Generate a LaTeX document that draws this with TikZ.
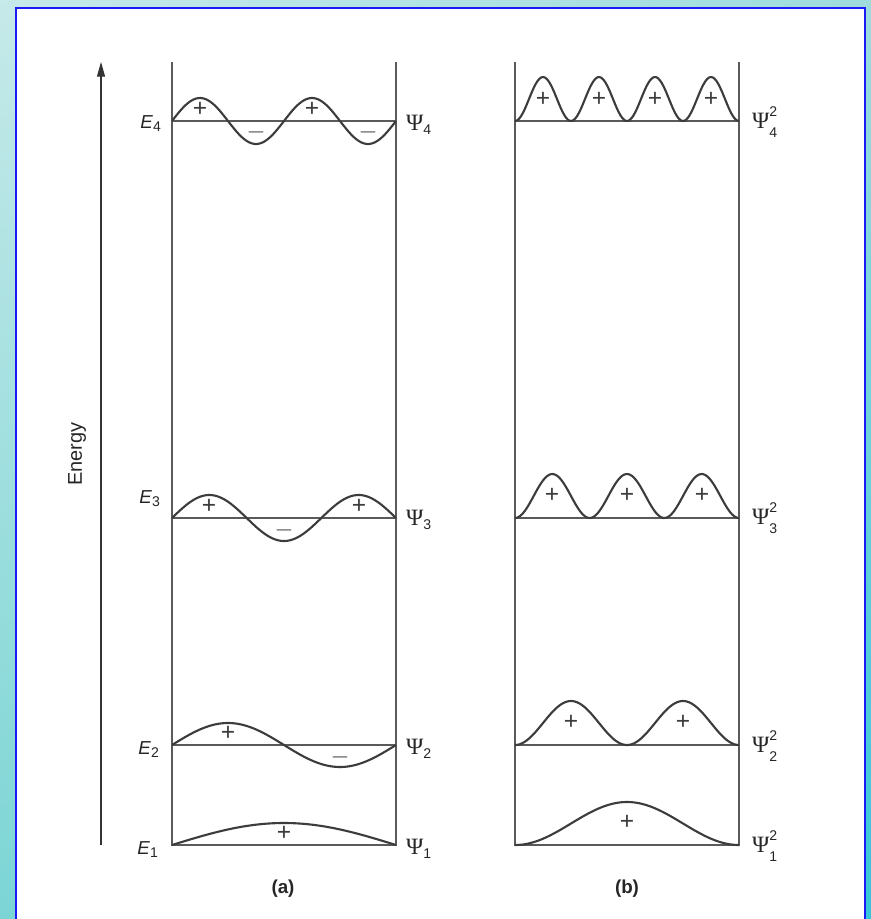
\documentclass[tikz,border=0pt]{standalone}
\usepackage{amsmath}
\usepackage{fontspec}
\setmainfont{Liberation Sans}
\newfontfamily\psifont{Liberation Serif}
\usetikzlibrary{arrows.meta}
\usetikzlibrary{shadings}

\definecolor{bgtl}{HTML}{C6E9E9}
\definecolor{bgtr}{HTML}{9EDCDE}
\definecolor{bgbl}{HTML}{7CD5D5}
\definecolor{bgbr}{HTML}{36C6D8}
\definecolor{framblue}{HTML}{1A1AF2}
\definecolor{linegray}{HTML}{5A5A5A}
\definecolor{wavegray}{HTML}{3C3C3C}

\newcommand{\levnum}[1]{\text{\fontsize{12}{13}\selectfont #1}}
\newcommand{\psisym}{\text{\psifont Ψ}}
\newcommand{\psisq}[1]{\psisym^{\raisebox{2.5pt}{\levnum{2}}}_{\raisebox{-2.5pt}{\levnum{#1}}}}

\begin{document}
\begin{tikzpicture}[
            x=0.03cm, y=-0.03cm,
            wall/.style={line width=1.1pt, draw=linegray},
            level/.style={line width=0.9pt, draw=linegray},
            wave/.style={line width=1.8pt, draw=wavegray, line join=round},
            lbl/.style={font=\fontsize{16}{18}\selectfont, text=black!85, inner sep=0pt},
            psilbl/.style={font=\fontsize{20}{22}\selectfont, text=black!85, inner sep=0pt},
            sgn/.style={font=\fontsize{21}{22}\selectfont, text=wavegray, inner sep=0pt}
        ]

        % frame
        \useasboundingbox (0,0) rectangle (871,919);
        \shade[upper left=bgtl, upper right=bgtr, lower left=bgbl, lower right=bgbr] (0,0) rectangle (871,919);
        \fill[white] (16,8) rectangle (865,919);
        \draw[framblue, line width=2.2pt] (16,919) -- (16,8) -- (865,8) -- (865,919);

        % energy axis
        \coordinate (axbot) at (101,845);
        \coordinate (axtop) at (101,62);
        \draw[-{Triangle[length=4.4mm, width=2.4mm]}, line width=1pt, black!80] (axbot) -- (axtop);
        \node[lbl, rotate=90, font=\fontsize{17}{18}\selectfont] (energy) at (77,454) {Energy};

        % wells
        \coordinate (aTL) at (172,62);
        \coordinate (aBL) at (172,845);
        \coordinate (aBR) at (396,845);
        \coordinate (aTR) at (396,62);
        \coordinate (bTL) at (515,62);
        \coordinate (bBL) at (515,845);
        \coordinate (bBR) at (739,845);
        \coordinate (bTR) at (739,62);
        \draw[wall] (aTL) -- (aBL) -- (aBR) -- (aTR);
        \draw[wall] (bTL) -- (bBL) -- (bBR) -- (bTR);

        \draw[level] (172,121) -- (396,121);
        \draw[level] (172,518) -- (396,518);
        \draw[level] (172,745) -- (396,745);
        \draw[level] (515,121) -- (739,121);
        \draw[level] (515,518) -- (739,518);
        \draw[level] (515,745) -- (739,745);

        % (a) wave functions
        \draw[wave] plot[domain=0:224, samples=120, smooth] ({172+\x},{121-23*sin(\x/224*720)});
        \draw[wave] plot[domain=0:224, samples=120, smooth] ({172+\x},{518-23*sin(\x/224*540)});
        \draw[wave] plot[domain=0:224, samples=120, smooth] ({172+\x},{745-22*sin(\x/224*360)});
        \draw[wave] plot[domain=0:224, samples=120, smooth] ({172+\x},{845-22*sin(\x/224*180)});

        % (b) probability densities
        \draw[wave] plot[domain=0:224, samples=120, smooth] ({515+\x},{121-44*sin(\x/224*720)^2});
        \draw[wave] plot[domain=0:224, samples=120, smooth] ({515+\x},{518-44*sin(\x/224*540)^2});
        \draw[wave] plot[domain=0:224, samples=120, smooth] ({515+\x},{745-44*sin(\x/224*360)^2});
        \draw[wave] plot[domain=0:224, samples=120, smooth] ({515+\x},{845-43*sin(\x/224*180)^2});

        % signs
        \node[sgn] (pa41) at (200,109) {+};
        \node[sgn] (ma41) at (256,132) {$-$};
        \node[sgn] (pa42) at (312,109) {+};
        \node[sgn] (ma42) at (368,132) {$-$};
        \node[sgn] (pa31) at (209,506) {+};
        \node[sgn] (ma31) at (284,530) {$-$};
        \node[sgn] (pa32) at (359,506) {+};
        \node[sgn] (pa21) at (228,733) {+};
        \node[sgn] (ma21) at (340,757) {$-$};
        \node[sgn] (pa11) at (284,833) {+};

        \node[sgn] (pb41) at (543,99) {+};
        \node[sgn] (pb42) at (599,99) {+};
        \node[sgn] (pb43) at (655,99) {+};
        \node[sgn] (pb44) at (711,99) {+};
        \node[sgn] (pb31) at (552,495) {+};
        \node[sgn] (pb32) at (627,495) {+};
        \node[sgn] (pb33) at (702,495) {+};
        \node[sgn] (pb21) at (571,722) {+};
        \node[sgn] (pb22) at (683,722) {+};
        \node[sgn] (pb11) at (627,822) {+};

        % level labels
        \node[lbl] (e4) at (151,124) {\textit{E}$_{\levnum{4}}$};
        \node[lbl] (e3) at (150,499) {\textit{E}$_{\levnum{3}}$};
        \node[lbl] (e2) at (149,750) {\textit{E}$_{\levnum{2}}$};
        \node[lbl] (e1) at (148,850) {\textit{E}$_{\levnum{1}}$};

        \node[psilbl] (psi4) at (419,125) {$\psisym_{\levnum{4}}$};
        \node[psilbl] (psi3) at (419,520) {$\psisym_{\levnum{3}}$};
        \node[psilbl] (psi2) at (419,749) {$\psisym_{\levnum{2}}$};
        \node[psilbl] (psi1) at (419,849) {$\psisym_{\levnum{1}}$};

        \node[psilbl] (psisq4) at (765,122) {$\psisq{4}$};
        \node[psilbl] (psisq3) at (765,518) {$\psisq{3}$};
        \node[psilbl] (psisq2) at (765,746) {$\psisq{2}$};
        \node[psilbl] (psisq1) at (765,846) {$\psisq{1}$};

        \node[lbl, font=\fontsize{16}{18}\selectfont\bfseries] (capa) at (283,889) {(a)};
        \node[lbl, font=\fontsize{16}{18}\selectfont\bfseries] (capb) at (627,889) {(b)};

    \end{tikzpicture}
\end{document}
